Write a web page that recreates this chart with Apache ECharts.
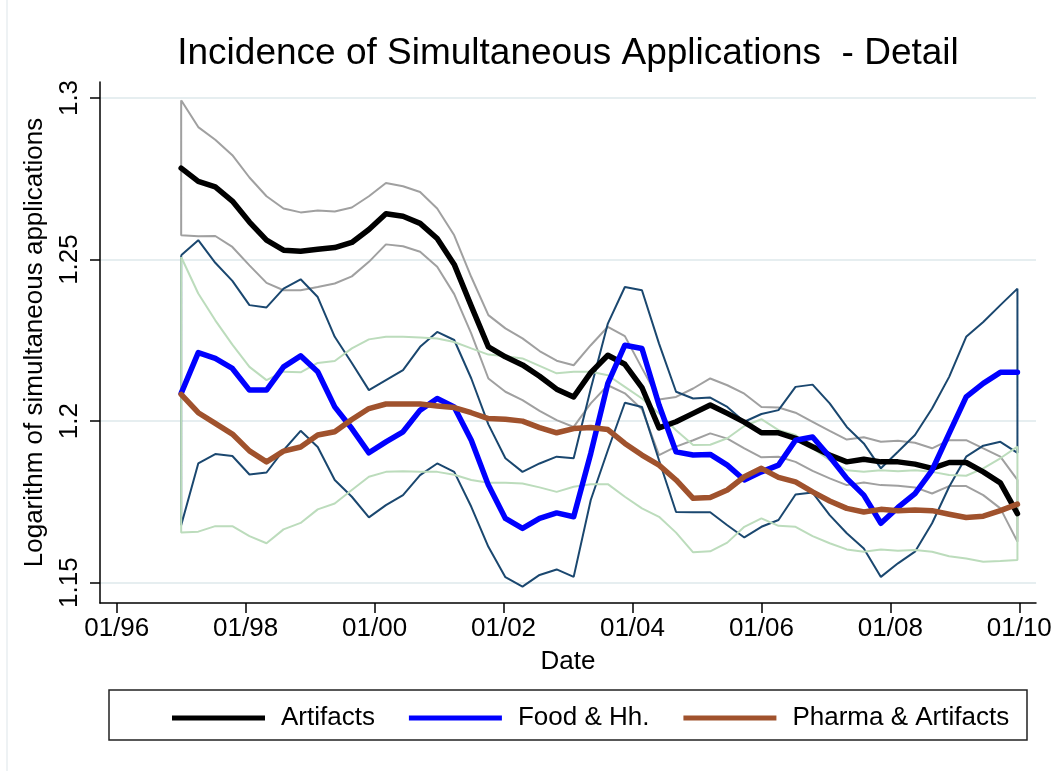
<!DOCTYPE html>
<html>
<head>
<meta charset="utf-8">
<script src="https://cdn.jsdelivr.net/npm/echarts@6/dist/echarts.min.js"></script>
<style>
html,body{margin:0;padding:0;background:#fff;}
#chart{width:1058px;height:771px;}
</style>
</head>
<body>
<div id="chart"></div>
<script>
// ---- Data ----
const dates = [1997.000,1997.265,1997.529,1997.794,1998.059,1998.324,1998.588,1998.853,1999.118,1999.382,
  1999.647,1999.912,2000.176,2000.441,2000.706,2000.971,2001.235,2001.500,2001.765,2002.029,
  2002.294,2002.559,2002.824,2003.088,2003.353,2003.618,2003.882,2004.147,2004.412,2004.676,
  2004.941,2005.206,2005.471,2005.735,2006.000,2006.265,2006.529,2006.794,2007.059,2007.324,
  2007.588,2007.853,2008.118,2008.382,2008.647,2008.912,2009.176,2009.441,2009.706,2009.971];

const artifacts = [1.2783,1.2742,1.2725,1.2681,1.2616,1.2560,1.2529,1.2526,1.2532,1.2537,
  1.2553,1.2593,1.2642,1.2634,1.2612,1.2565,1.2485,1.2356,1.2230,1.2199,
  1.2174,1.2139,1.2099,1.2075,1.2150,1.2204,1.2176,1.2104,1.1979,1.1998,
  1.2024,1.2050,1.2024,1.1997,1.1964,1.1964,1.1947,1.1921,1.1895,1.1874,
  1.1882,1.1874,1.1874,1.1867,1.1854,1.1872,1.1872,1.1843,1.1809,1.1714];
const artifactsUpper = [1.2993,1.2910,1.2871,1.2823,1.2754,1.2696,1.2658,1.2646,1.2652,1.2649,
  1.2661,1.2696,1.2737,1.2727,1.2709,1.2658,1.2575,1.2446,1.2328,1.2287,
  1.2256,1.2217,1.2187,1.2173,1.2235,1.2292,1.2263,1.2164,1.2067,1.2075,
  1.2101,1.2132,1.2111,1.2085,1.2044,1.2042,1.2026,1.1998,1.1970,1.1943,
  1.1950,1.1936,1.1939,1.1933,1.1916,1.1941,1.1941,1.1916,1.1890,1.1818];
const artifactsLower = [1.2575,1.2572,1.2573,1.2539,1.2482,1.2428,1.2405,1.2405,1.2415,1.2426,
  1.2448,1.2493,1.2547,1.2541,1.2524,1.2478,1.2393,1.2271,1.2132,1.2091,
  1.2065,1.2032,1.2003,1.1982,1.2055,1.2111,1.2086,1.2037,1.1895,1.1921,
  1.1941,1.1962,1.1946,1.1916,1.1888,1.1890,1.1874,1.1846,1.1823,1.1802,
  1.1810,1.1802,1.1800,1.1795,1.1776,1.1799,1.1799,1.1771,1.1730,1.1627];

const food = [1.2086,1.2212,1.2194,1.2163,1.2096,1.2096,1.2168,1.2202,1.2153,1.2044,
  1.1977,1.1902,1.1936,1.1967,1.2034,1.2070,1.2044,1.1941,1.1802,1.1699,
  1.1668,1.1699,1.1716,1.1704,1.1900,1.2117,1.2235,1.2225,1.2050,1.1905,
  1.1895,1.1897,1.1864,1.1818,1.1843,1.1864,1.1941,1.1951,1.1890,1.1823,
  1.1771,1.1684,1.1733,1.1776,1.1848,1.1962,1.2075,1.2117,1.2151,1.2151];
const foodUpper = [1.2513,1.2560,1.2490,1.2434,1.2359,1.2352,1.2410,1.2439,1.2384,1.2261,
  1.2180,1.2096,1.2127,1.2158,1.2230,1.2276,1.2251,1.2132,1.1990,1.1885,
  1.1843,1.1869,1.1890,1.1885,1.2100,1.2302,1.2415,1.2405,1.2240,1.2091,
  1.2070,1.2073,1.2044,1.1998,1.2022,1.2034,1.2106,1.2113,1.2055,1.1982,
  1.1931,1.1854,1.1905,1.1957,1.2039,1.2137,1.2261,1.2307,1.2359,1.2410];
const foodLower = [1.1678,1.1869,1.1898,1.1892,1.1835,1.1841,1.1910,1.1970,1.1920,1.1818,
  1.1766,1.1702,1.1740,1.1771,1.1833,1.1869,1.1843,1.1735,1.1611,1.1517,
  1.1488,1.1524,1.1541,1.1518,1.1756,1.1910,1.2057,1.2044,1.1879,1.1719,
  1.1718,1.1718,1.1678,1.1640,1.1673,1.1694,1.1773,1.1779,1.1709,1.1653,
  1.1606,1.1518,1.1560,1.1596,1.1684,1.1797,1.1890,1.1924,1.1936,1.1902];

const pharma = [1.2083,1.2026,1.1993,1.1960,1.1908,1.1874,1.1907,1.1920,1.1957,1.1967,
  1.2005,1.2039,1.2053,1.2053,1.2053,1.2047,1.2042,1.2026,1.2008,1.2006,
  1.2000,1.1980,1.1964,1.1977,1.1980,1.1974,1.1931,1.1895,1.1864,1.1818,
  1.1761,1.1764,1.1787,1.1828,1.1854,1.1826,1.1812,1.1781,1.1753,1.1730,
  1.1719,1.1727,1.1723,1.1725,1.1723,1.1712,1.1702,1.1706,1.1723,1.1743];
const pharmaUpper = [1.2508,1.2395,1.2312,1.2237,1.2168,1.2127,1.2153,1.2151,1.2180,1.2186,
  1.2225,1.2253,1.2261,1.2261,1.2259,1.2256,1.2245,1.2225,1.2206,1.2201,
  1.2194,1.2171,1.2148,1.2153,1.2153,1.2142,1.2106,1.2070,1.2024,1.1972,
  1.1926,1.1927,1.1947,1.1985,1.2006,1.1972,1.1957,1.1916,1.1879,1.1848,
  1.1843,1.1848,1.1845,1.1848,1.1843,1.1833,1.1831,1.1854,1.1885,1.1921];
const pharmaLower = [1.1655,1.1658,1.1675,1.1675,1.1644,1.1622,1.1665,1.1685,1.1727,1.1745,
  1.1787,1.1828,1.1843,1.1845,1.1843,1.1843,1.1834,1.1818,1.1809,1.1809,
  1.1807,1.1795,1.1781,1.1797,1.1805,1.1805,1.1766,1.1730,1.1704,1.1655,
  1.1594,1.1597,1.1624,1.1673,1.1699,1.1676,1.1673,1.1644,1.1622,1.1603,
  1.1596,1.1603,1.1599,1.1601,1.1596,1.1582,1.1575,1.1565,1.1567,1.1570];

const xTicks = [1996, 1998, 2000, 2002, 2004, 2006, 2008, 2010];
const yTicks = [1.15, 1.2, 1.25, 1.3];
const seriesNames = ['Artifacts', 'Food & Hh.', 'Pharma & Artifacts'];

// ---- helpers ----
function pairs(vals) { return vals.map((v, i) => [dates[i], v]); }
function bandOutline(upper, lower) {
  const out = pairs(upper);
  for (let i = lower.length - 1; i >= 0; i--) out.push([dates[i], lower[i]]);
  out.push([dates[0], upper[0]]);
  return out;
}

const FONT = '"Liberation Sans", Arial, Helvetica, sans-serif';
const chart = echarts.init(document.getElementById('chart'), null, { renderer: 'canvas' });

function bandSeries(name, upper, lower, color) {
  return {
    name: name, type: 'line', data: bandOutline(upper, lower),
    showSymbol: false, symbol: 'none', silent: true,
    lineStyle: { color: color, width: 2 }, itemStyle: { color: color },
    z: 2, animation: false
  };
}
function mainSeries(name, vals, color) {
  return {
    name: name, type: 'line', data: pairs(vals),
    showSymbol: false, symbol: 'none',
    lineStyle: { color: color, width: 5.5, join: 'round', cap: 'round' },
    itemStyle: { color: color },
    z: 3, animation: false
  };
}

const option = {
  backgroundColor: '#fff',
  animation: false,
  title: {
    text: 'Incidence of Simultaneous Applications  - Detail',
    left: 563, top: 30, textAlign: 'center',
    textStyle: { fontFamily: FONT, fontSize: 37, fontWeight: 'normal', color: '#000' }
  },
  grid: { left: 100, right: 22, top: 82, bottom: 168, containLabel: false },
  xAxis: {
    type: 'value', min: 1995.741, max: 2010.259,
    name: 'Date', nameLocation: 'middle', nameGap: 46,
    nameTextStyle: { fontFamily: FONT, fontSize: 26, color: '#000' },
    axisLine: { show: true, lineStyle: { color: '#000', width: 1.5 } },
    axisTick: { show: true, length: 10, lineStyle: { color: '#000', width: 1.5 }, customValues: xTicks },
    axisLabel: {
      customValues: xTicks, margin: 13,
      fontFamily: FONT, fontSize: 26, color: '#000',
      formatter: v => '01/' + String(Math.round(v)).slice(2)
    },
    splitLine: { show: false }
  },
  yAxis: {
    type: 'value', min: 1.14372, max: 1.30495,
    name: 'Logarithm of simultaneous applications', nameLocation: 'middle', nameGap: 52, nameRotate: 90,
    nameTextStyle: { fontFamily: FONT, fontSize: 26, color: '#000' },
    axisLine: { show: true, lineStyle: { color: '#000', width: 1.5 } },
    axisTick: { show: true, length: 10, lineStyle: { color: '#000', width: 1.5 }, customValues: yTicks },
    axisLabel: {
      customValues: yTicks, rotate: 90, margin: 17,
      fontFamily: FONT, fontSize: 26, color: '#000',
      formatter: v => String(Math.round(v * 100) / 100)
    },
    splitLine: { show: true, lineStyle: { color: '#e6eef0', width: 2 } }
  },
  legend: {
    data: seriesNames,
    left: 167, top: 700,
    icon: 'rect', itemWidth: 93, itemHeight: 5, itemGap: 34,
    textStyle: { fontFamily: FONT, fontSize: 26, color: '#000', padding: [0, 0, 0, 11] },
    selectedMode: false
  },
  graphic: [
    { type: 'rect', shape: { x: 109, y: 690, width: 918, height: 50 },
      style: { fill: 'none', stroke: '#222', lineWidth: 1.5 }, silent: true },
    { type: 'line', shape: { x1: 7, y1: 0, x2: 7, y2: 771 },
      style: { stroke: '#e8eef0', lineWidth: 1.5 }, silent: true }
  ],
  series: [
    bandSeries('Artifacts CI', artifactsUpper, artifactsLower, '#a0a0a0'),
    bandSeries('Food CI', foodUpper, foodLower, '#1a476f'),
    bandSeries('Pharma CI', pharmaUpper, pharmaLower, '#bcdcbc'),
    mainSeries(seriesNames[0], artifacts, '#000000'),
    mainSeries(seriesNames[1], food, '#0000ff'),
    mainSeries(seriesNames[2], pharma, '#a0522d')
  ]
};
chart.setOption(option);
</script>
</body>
</html>
